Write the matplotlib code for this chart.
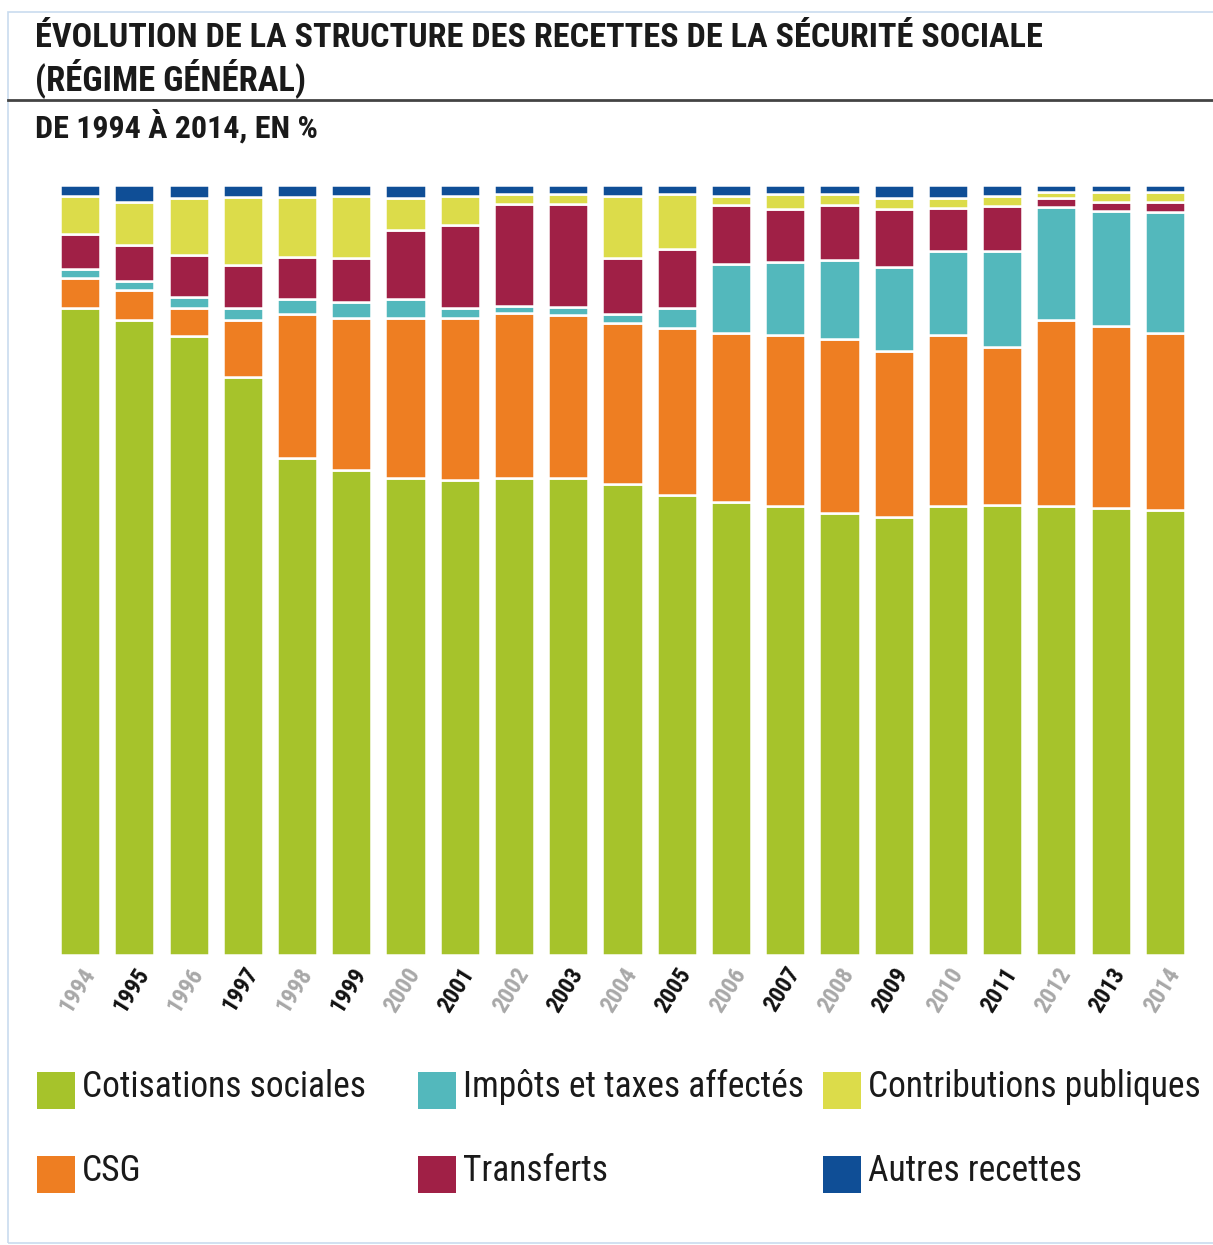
import matplotlib
matplotlib.use("Agg")
import matplotlib.pyplot as plt
from matplotlib.patches import Rectangle
from matplotlib.lines import Line2D
from matplotlib import font_manager
import numpy as np

years = [str(y) for y in range(1994, 2015)]
cotisations = [84.0, 82.5, 80.4, 75.1, 64.5, 63.0, 61.9, 61.7, 61.9, 61.9, 61.2,
               59.7, 58.8, 58.3, 57.4, 56.9, 58.3, 58.4, 58.3, 58.1, 57.8]
csg = [3.9, 3.9, 3.6, 7.4, 18.7, 19.7, 20.8, 21.0, 21.5, 21.2, 20.9,
       21.7, 22.0, 22.2, 22.6, 21.5, 22.2, 20.6, 24.2, 23.6, 23.0]
impots = [1.2, 1.1, 1.5, 1.5, 2.0, 2.1, 2.5, 1.3, 0.9, 1.1, 1.1,
          2.6, 8.9, 9.5, 10.3, 11.0, 10.9, 12.4, 14.6, 14.9, 15.7]
transferts = [4.5, 4.7, 5.4, 5.6, 5.4, 5.7, 9.0, 10.8, 13.2, 13.3, 7.3,
              7.7, 7.7, 6.9, 7.1, 7.5, 5.6, 5.9, 1.2, 1.2, 1.3]
contributions = [5.0, 5.6, 7.4, 8.8, 7.8, 8.1, 4.1, 3.8, 1.3, 1.3, 8.1,
                 7.1, 1.2, 1.9, 1.4, 1.4, 1.3, 1.3, 0.8, 1.3, 1.3]
autres = [1.4, 2.2, 1.7, 1.6, 1.6, 1.4, 1.7, 1.4, 1.2, 1.2, 1.4,
          1.2, 1.4, 1.2, 1.2, 1.7, 1.7, 1.4, 0.9, 0.9, 0.9]

series = [
    ("Cotisations sociales", cotisations, "#a6c32b"),
    ("CSG", csg, "#ee7e22"),
    ("Impôts et taxes affectés", impots, "#53b8bc"),
    ("Transferts", transferts, "#a02046"),
    ("Contributions publiques", contributions, "#dcdc4a"),
    ("Autres recettes", autres, "#0f4e96"),
]

# pick a narrow font if one is installed
names = {f.name for f in font_manager.fontManager.ttflist}
narrow = None
for cand in ["Liberation Sans Narrow", "DejaVu Sans Condensed", "Noto Sans Condensed",
             "Roboto Condensed", "Open Sans Condensed"]:
    if cand in names:
        narrow = cand
        break
STRETCH = "normal"
if narrow is None:
    for f in font_manager.fontManager.ttflist:
        if f.stretch in ("condensed", "semi-condensed") and f.name in (
                "DejaVu Sans", "Noto Sans", "Open Sans", "Roboto"):
            narrow = f.name
            STRETCH = f.stretch
            break
if narrow is None:
    narrow = "DejaVu Sans"
TFONT = [narrow, "DejaVu Sans"]

W, H = 1213, 1245
fig = plt.figure(figsize=(W / 100, H / 100), dpi=100)
fig.patch.set_facecolor("white")


def fx(px):
    return px / W


def fy(py):
    return 1 - py / H


# frame
fig.add_artist(Rectangle((fx(8), fy(1243)), 1.2, fy(12) - fy(1243), transform=fig.transFigure,
                         fill=False, edgecolor="#c9dcef", linewidth=1.2))
fig.add_artist(Line2D([fx(8), 1], [fy(100), fy(100)], transform=fig.transFigure,
                      color="#444444", linewidth=2))

fit_items = []
t1 = fig.text(fx(35), fy(38), "ÉVOLUTION DE LA STRUCTURE DES RECETTES DE LA SÉCURITÉ SOCIALE",
              fontsize=22, fontweight="bold", family=TFONT, stretch=STRETCH,
              color="#1a1a1a", va="center", ha="left")
fit_items.append((t1, 1008))
t2 = fig.text(fx(35), fy(78), "(RÉGIME GÉNÉRAL)",
              fontsize=22, fontweight="bold", family=TFONT, stretch=STRETCH,
              color="#1a1a1a", va="center", ha="left")
fit_items.append((t2, 270))
t3 = fig.text(fx(35), fy(126), "DE 1994 À 2014, EN %",
              fontsize=18, fontweight="bold", family=TFONT, stretch=STRETCH,
              color="#1a1a1a", va="center", ha="left")
fit_items.append((t3, 283))

ax = fig.add_axes([fx(53), fy(955), fx(1192) - fx(53), fy(185) - fy(955)])
x = np.arange(len(years))
bottom = np.zeros(len(years))
for name, vals, col in series:
    v = np.array(vals)
    ax.bar(x, v, width=0.74, bottom=bottom, color=col, edgecolor="white", linewidth=1.8)
    bottom += v

ax.set_xlim(-0.5, len(years) - 0.5)
ax.set_ylim(0, 100)
for s in ax.spines.values():
    s.set_visible(False)
ax.set_yticks([])
ax.set_xticks(x)
ax.set_xticklabels(years, rotation=58, ha="right", va="top", rotation_mode="anchor",
                   fontsize=17, family=TFONT, stretch=STRETCH, fontweight="bold")
for i, lbl in enumerate(ax.get_xticklabels()):
    lbl.set_color("#a8a8a8" if i % 2 == 0 else "#111111")
ax.tick_params(axis="x", length=0, pad=6)

# legend
leg_pos = [(37, 1090), (37, 1174), (418, 1090), (418, 1174), (823, 1090), (823, 1174)]
leg_texts = []
for (px, py), idx in zip(leg_pos, range(6)):
    name, _, col = series[idx]
    fig.add_artist(Rectangle((fx(px), fy(py + 18.5)), fx(38), fy(0) - fy(37),
                             transform=fig.transFigure, facecolor=col, edgecolor="none"))
    t = fig.text(fx(px + 45), fy(py - 3), name, fontsize=20, family=TFONT, stretch=STRETCH,
                 color="#1a1a1a", va="center", ha="left")
    leg_texts.append(t)

# fit text widths to the reference
fig.canvas.draw()
r = fig.canvas.get_renderer()
for t, target in fit_items:
    w = t.get_window_extent(r).width
    t.set_fontsize(t.get_fontsize() * target / w)
w_ref = leg_texts[4].get_window_extent(r).width
leg_fs = leg_texts[4].get_fontsize() * 333 / w_ref
for t in leg_texts:
    t.set_fontsize(leg_fs)

fig.savefig("out.png", dpi=100, facecolor="white")
